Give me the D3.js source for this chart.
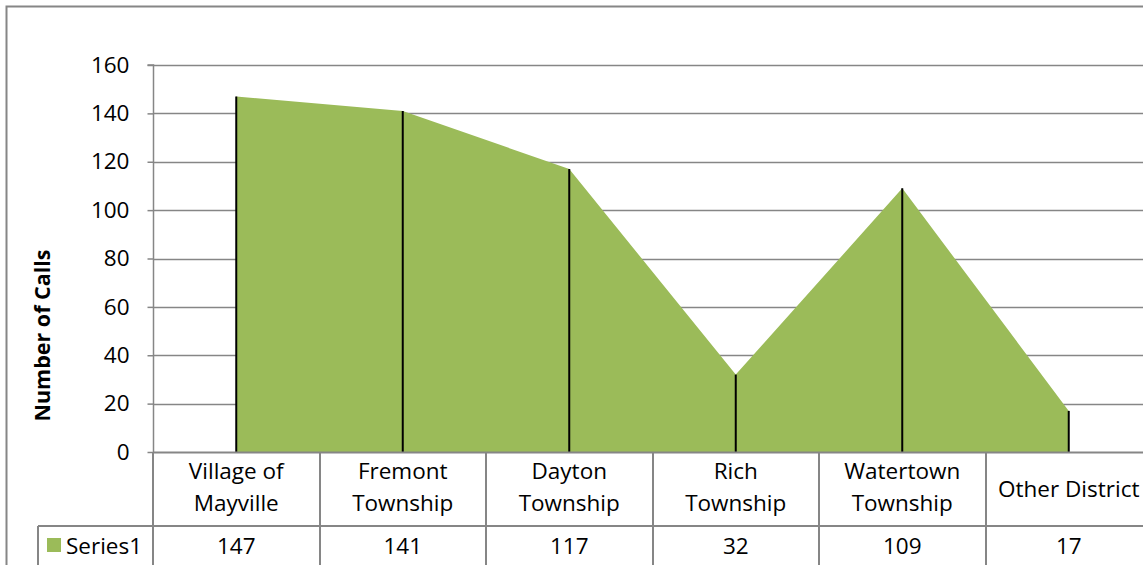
<!DOCTYPE html>
<html><head><meta charset="utf-8">
<script src="https://cdn.jsdelivr.net/npm/d3@7"></script>
<style>body{margin:0;background:#fff;}svg{display:block;font-family:"Open Sans",sans-serif;}</style>
</head><body>
<svg id="c" width="1143" height="565"></svg>
<script>
const categories = [["Village of","Mayville"],["Fremont","Township"],["Dayton","Township"],["Rich","Township"],["Watertown","Township"],["Other District"]];
const values = [147,141,117,32,109,17];
const yTicks = [0,20,40,60,80,100,120,140,160];
const seriesName = "Series1";
const axisTitle = "Number of Calls";

const svg = d3.select("#c");
const L=153, R=1152, T=65, B=452, tableRow=526;
const grid="#868686";
const fs=22.5;
const x = d3.scaleBand().domain(d3.range(values.length)).range([L,R]);
const y = d3.scaleLinear().domain([0,160]).range([B,T]);
const cx = i => x(i)+x.bandwidth()/2;

// chart border
svg.append("path").attr("d",`M6.5,565 V6.5 H1143`).attr("fill","none").attr("stroke",grid).attr("stroke-width",2);

// gridlines
svg.append("g").selectAll("line").data(yTicks.filter(d=>d>0)).join("line")
  .attr("x1",L).attr("x2",R).attr("y1",d=>Math.round(y(d))+0.5).attr("y2",d=>Math.round(y(d))+0.5)
  .attr("stroke",grid).attr("stroke-width",1.5);

// area
const area = d3.area().x((d,i)=>cx(i)).y0(y(0)).y1(d=>y(d));
svg.append("path").datum(values).attr("d",area).attr("fill","#9BBB59");

// drop lines
svg.append("g").selectAll("line").data(values).join("line")
  .attr("x1",(d,i)=>cx(i)).attr("x2",(d,i)=>cx(i)).attr("y1",d=>y(d)).attr("y2",B)
  .attr("stroke","#000").attr("stroke-width",2);

// y axis
const ya = d3.axisLeft(y).tickValues(yTicks).tickSize(6).tickPadding(18);
const g = svg.append("g").attr("transform",`translate(${L+0.5},0)`).call(ya);
g.select(".domain").attr("stroke",grid).attr("stroke-width",1.5).attr("d",`M-6,${T}H0V${B}`);
g.selectAll(".tick line").attr("stroke",grid).attr("stroke-width",1.5);
g.selectAll(".tick text").attr("font-size",fs).attr("fill","#000").attr("font-family","'Open Sans',sans-serif");

// axis title
svg.append("text").attr("transform",`translate(50,${(T+B)/2+77}) rotate(-90)`).attr("text-anchor","middle")
  .attr("font-size",21.5).attr("font-weight","bold").text(axisTitle);

// data table lines
const tl = svg.append("g").attr("stroke",grid).attr("stroke-width",2).attr("fill","none");
tl.append("line").attr("x1",L).attr("x2",1143).attr("y1",B+0.5).attr("y2",B+0.5);
tl.append("line").attr("x1",38).attr("x2",1143).attr("y1",tableRow).attr("y2",tableRow);
tl.append("line").attr("x1",38).attr("x2",38).attr("y1",tableRow).attr("y2",565);
tl.selectAll(".v").data(d3.range(values.length+1)).join("line")
  .attr("x1",i=>Math.round(x(i)??R)).attr("x2",i=>Math.round(x(i)??R)).attr("y1",B).attr("y2",565);

// category labels
const cl = svg.append("g").attr("font-size",fs).attr("text-anchor","middle");
categories.forEach((c,i)=>{
  const t = cl.append("text").attr("x",cx(i));
  if(c.length===1){ t.attr("y",497).text(c[0]); }
  else { c.forEach((s,j)=>t.append("tspan").attr("x",cx(i)).attr("y",479+j*32).text(s)); }
});
// values
svg.append("g").attr("font-size",fs).attr("text-anchor","middle").selectAll("text").data(values).join("text")
  .attr("x",(d,i)=>cx(i)).attr("y",554).text(d=>d);
// legend
svg.append("rect").attr("x",47).attr("y",538).attr("width",14).attr("height",14).attr("fill","#9BBB59");
svg.append("text").attr("x",66).attr("y",554).attr("font-size",fs).text(seriesName);
</script>
</body></html>
